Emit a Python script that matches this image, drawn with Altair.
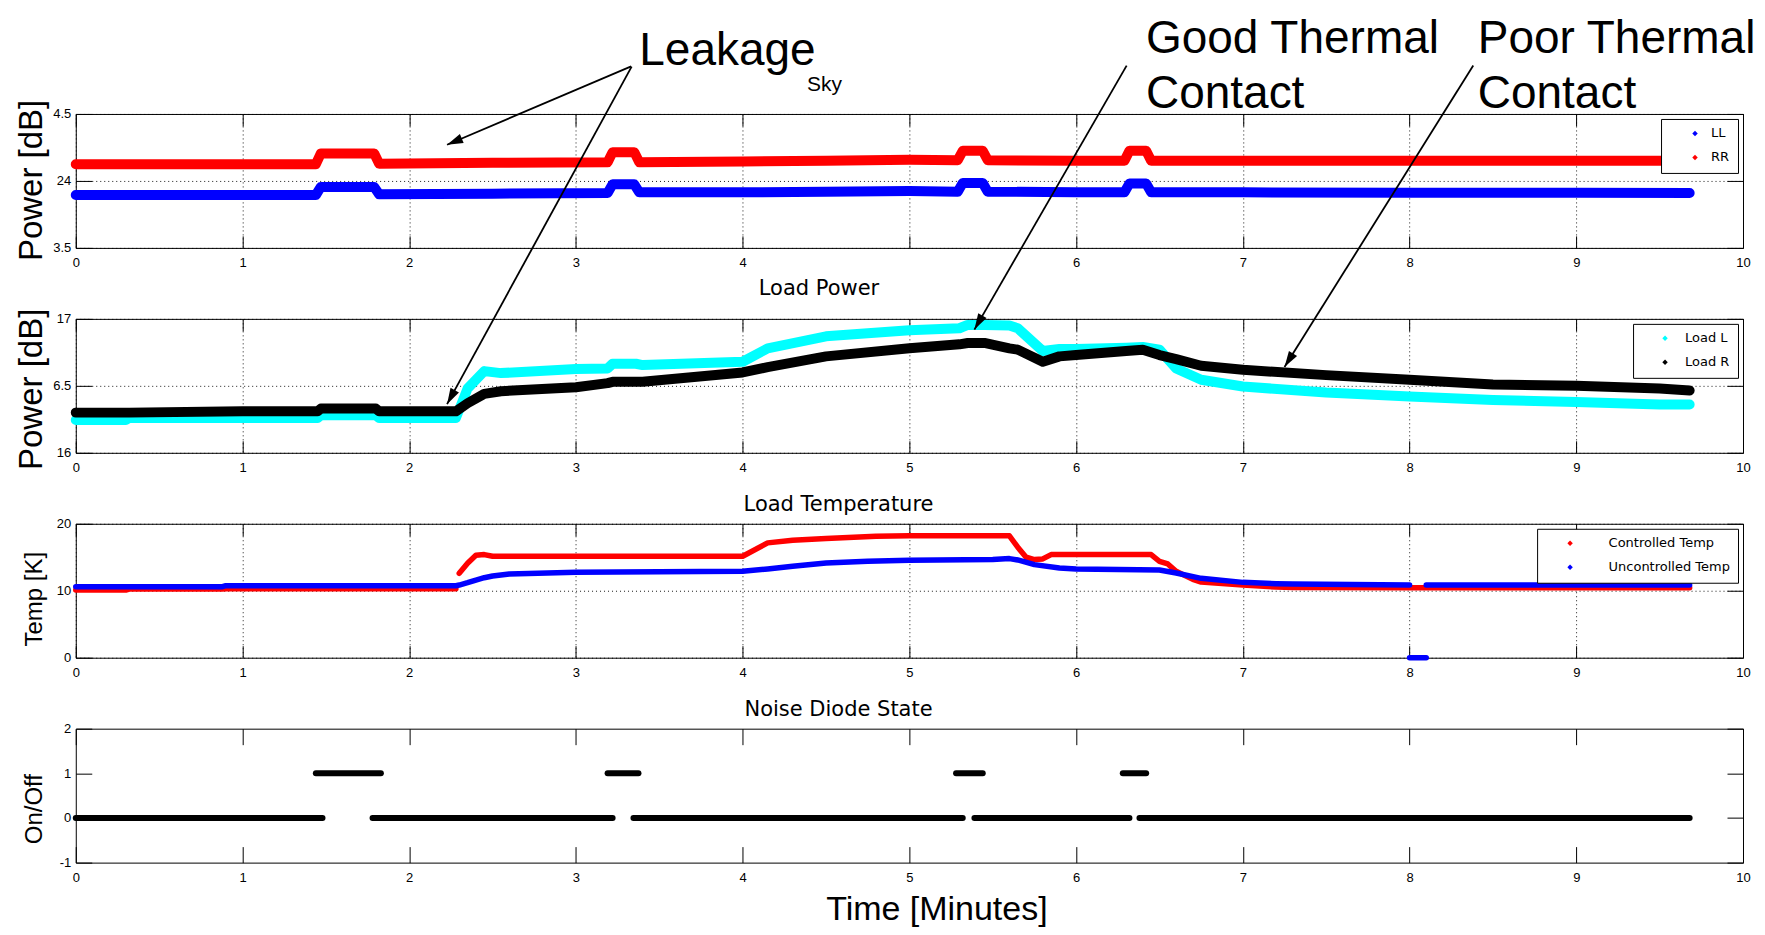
import math
import altair as alt
import pandas as pd

# ------------------------------------------------------------------ data
X_TICKS = [0, 1, 2, 3, 4, 5, 6, 7, 8, 9, 10]

# Panel 1 - sky power (LL blue, RR red)
sky_t = [0.00, 1.44, 1.47, 1.79, 1.82, 2.50, 3.19, 3.22, 3.35, 3.38, 4.00, 4.50, 5.00,
         5.29, 5.32, 5.44, 5.47, 6.00, 6.29, 6.32, 6.42, 6.45, 7.00, 8.00, 9.00, 9.68]
sky_ll = [3.895, 3.895, 3.955, 3.955, 3.900, 3.905, 3.910, 3.975, 3.975, 3.915, 3.915, 3.920, 3.925,
          3.920, 3.985, 3.985, 3.920, 3.915, 3.915, 3.980, 3.980, 3.915, 3.915, 3.912, 3.912, 3.910]
sky_rr = [4.125, 4.125, 4.205, 4.205, 4.128, 4.135, 4.140, 4.215, 4.215, 4.140, 4.145, 4.150, 4.158,
          4.155, 4.225, 4.225, 4.155, 4.150, 4.150, 4.225, 4.225, 4.150, 4.150, 4.150, 4.150, 4.150]

# Panel 2 - load power (Load L cyan, Load R black)
load_t = [0.00, 0.30, 0.32, 1.00, 1.45, 1.47, 1.80, 1.82, 2.28, 2.35, 2.45, 2.55, 3.00, 3.19,
          3.22, 3.36, 3.40, 4.00, 4.15, 4.50, 5.00, 5.30, 5.35, 5.45, 5.60, 5.65, 5.80, 5.90,
          6.00, 6.30, 6.40, 6.50, 6.60, 6.75, 7.00, 7.50, 8.00, 8.50, 9.00, 9.50, 9.68]
load_l = [16.245, 16.245, 16.26, 16.26, 16.26, 16.28, 16.28, 16.26, 16.26, 16.48, 16.61, 16.595,
          16.625, 16.63, 16.665, 16.665, 16.655, 16.68, 16.78, 16.87, 16.915, 16.93, 16.955, 16.955,
          16.95, 16.93, 16.76, 16.775, 16.775, 16.785, 16.79, 16.77, 16.63, 16.545, 16.495, 16.45,
          16.42, 16.395, 16.38, 16.36, 16.36]
load_r = [16.30, 16.30, 16.30, 16.31, 16.31, 16.33, 16.33, 16.31, 16.31, 16.37, 16.44, 16.46,
          16.49, 16.52, 16.53, 16.53, 16.53, 16.60, 16.64, 16.72, 16.78, 16.81, 16.82, 16.82,
          16.78, 16.77, 16.68, 16.72, 16.73, 16.76, 16.77, 16.73, 16.70, 16.65, 16.62, 16.58,
          16.545, 16.51, 16.50, 16.48, 16.465]

# Panel 3 - load temperature
ctrl_t = [0.00, 0.30, 0.32, 0.88, 0.90, 2.28, 2.30, 2.35, 2.40, 2.45, 2.50, 2.60, 3.00, 4.00,
          4.15, 4.30, 4.50, 4.60, 4.80, 5.00, 5.50, 5.60, 5.65, 5.70, 5.75, 5.80, 5.85, 5.90,
          6.00, 6.45, 6.50, 6.55, 6.60, 6.70, 6.75, 7.00, 7.20, 7.30, 8.00, 9.00, 9.68]
ctrl_v = [10.1, 10.1, 10.25, 10.25, 10.3, 10.3, 12.6, 14.1, 15.3, 15.4, 15.15, 15.15, 15.15, 15.15,
          17.15, 17.55, 17.8, 17.9, 18.15, 18.2, 18.2, 18.2, 16.5, 15.0, 14.65, 14.75, 15.4, 15.4,
          15.4, 15.4, 14.4, 14.0, 12.9, 11.7, 11.3, 10.85, 10.55, 10.5, 10.45, 10.45, 10.45]
ctrl_seg = [0] * 6 + [1] * 35
ucon_t = [0.00, 0.88, 0.90, 2.28, 2.30, 2.35, 2.40, 2.45, 2.50, 2.60, 3.00, 4.00, 4.15, 4.30,
          4.50, 4.75, 5.00, 5.50, 5.60, 5.65, 5.75, 5.90, 6.00, 6.50, 6.60, 6.75, 7.00, 7.20,
          7.30, 8.00, 8.00, 8.10, 8.10, 9.00, 9.68]
ucon_v = [10.6, 10.6, 10.75, 10.75, 10.85, 11.2, 11.6, 11.95, 12.2, 12.5, 12.75, 12.9, 13.25, 13.65,
          14.15, 14.4, 14.55, 14.65, 14.8, 14.6, 13.9, 13.4, 13.25, 13.1, 12.65, 11.85, 11.25, 11.05,
          11.0, 10.85, 0.0, 0.0, 10.85, 10.85, 10.85]
ucon_seg = [0] * 30 + [1, 1] + [2, 2, 2]

# Panel 4 - noise diode state
diode_start = [0.00, 1.78, 3.345, 5.39, 6.38, 1.44, 3.19, 5.28, 6.28]
diode_end = [1.48, 3.22, 5.32, 6.32, 9.68, 1.83, 3.375, 5.44, 6.42]
diode_state = [0, 0, 0, 0, 0, 1, 1, 1, 1]

# axis ticks / labels
sky_yticks = [3.5, 4.0, 4.5]
sky_ylabels = ["3.5", "24", "4.5"]
load_yticks = [16.0, 16.5, 17.0]
load_ylabels = ["16", "6.5", "17"]
temp_yticks = [0, 10, 20]
temp_ylabels = ["0", "10", "20"]
diode_yticks = [-1, 0, 1, 2]
diode_ylabels = ["-1", "0", "1", "2"]

# annotations (panel data coordinates)
head_text = ["Leakage", "Good Thermal", "Contact", "Poor Thermal", "Contact"]
head_t = [3.380, 6.419, 6.419, 8.409, 8.409]
head_v = [4.868, 4.954, 4.542, 4.954, 4.542]
sub_text = ["Sky"]
sub_t = [4.386]
sub_v = [4.669]

arr1_t0, arr1_v0, arr1_t1, arr1_v1 = [3.331], [4.855], [2.227], [4.27]
arr2_t0 = [3.334, 6.303, 8.382]
arr2_v0 = [18.883, 18.891, 18.891]
arr2_t1 = [2.227, 5.39, 7.25]
arr2_v1 = [16.363, 16.92, 16.64]

title_text = ["Load Power", "Load Temperature", "Noise Diode State"]
title_t = [4.458, 4.575, 4.575]
title_v = [17.176, 21.88, 2.282]

# ------------------------------------------------------------------ layout
W, H, GAP = 1668, 134, 71
AXF = "Liberation Sans"
XS = alt.Scale(domain=[0, 10], nice=False, zero=False)
ARROW = "M0,0L-0.6,2L0.6,2Z"
GRID = dict(gridColor="black", gridDash=[1, 3], gridWidth=1, gridOpacity=0.9)


def yscale(lo, hi):
    return alt.Scale(domain=[lo, hi], nice=False, zero=False)


def value_expr(vals, texts):
    return " : ".join(f"datum.value == {v} ? '{s}'" for v, s in zip(vals, texts)) + " : ''"


def tick_axis(orient, offset, values, size):
    return alt.Axis(orient=orient, offset=offset, values=values, labels=False, ticks=True,
                    tickSize=size, tickColor="black", tickWidth=1, domain=False, grid=False,
                    title=None)


def legend(symbol_offset, label_offset):
    return alt.Legend(title=None, orient="top-right", offset=5, strokeColor="black",
                      fillColor="white", padding=8, cornerRadius=0, symbolType="diamond",
                      symbolSize=30, symbolStrokeWidth=0, symbolOpacity=1,
                      symbolOffset=symbol_offset, labelOffset=label_offset,
                      labelFont="DejaVu Sans", labelFontSize=13, labelColor="black",
                      rowPadding=10)


def text_layer(df, **mk):
    def f(ys):
        return alt.Chart(df).mark_text(**mk).encode(
            x=alt.X("t:Q", scale=XS, axis=None),
            y=alt.Y("v:Q", scale=ys, axis=None),
            text="label:N")
    return f


def legend_layer(df, dom, colors, leg):
    def f(ys):
        return alt.Chart(df).transform_filter("false").mark_point(
            filled=True, shape="diamond", size=30).encode(
            x=alt.X("t:Q", scale=XS, axis=None),
            y=alt.Y("v:Q", scale=ys, axis=None),
            color=alt.Color("series:N", scale=alt.Scale(domain=dom, range=colors), legend=leg))
    return f


def arrow_layers(t0, v0, t1, v1, lo, hi):
    ang = []
    for a, b, c, d in zip(t0, v0, t1, v1):
        dx = (c - a) * W / 10.0
        dy = -(d - b) * H / (hi - lo)
        ang.append(math.degrees(math.atan2(dx, -dy)) % 360)
    df = pd.DataFrame({"t0": t0, "v0": v0, "t1": t1, "v1": v1, "ang": ang})

    def rule(ys):
        return alt.Chart(df).mark_rule(color="black", strokeWidth=1.8).encode(
            x=alt.X("t0:Q", scale=XS, axis=None), y=alt.Y("v0:Q", scale=ys, axis=None),
            x2="t1:Q", y2="v1:Q")

    def head(ys):
        return alt.Chart(df).mark_point(shape=ARROW, size=256, filled=True, color="black",
                                        opacity=1, strokeWidth=0).encode(
            x=alt.X("t1:Q", scale=XS, axis=None), y=alt.Y("v1:Q", scale=ys, axis=None),
            angle=alt.Angle("ang:Q", scale=None))
    return [rule, head]


def make_panel(main_fn, lo, hi, yticks, ylabels, ytitle, ytitle_size, ytitle_y, grid,
               xtick, ytick, extras, x_expr=None, xtitle=None):
    ys = yscale(lo, hi)
    xkw = dict(orient="bottom", values=X_TICKS, labelFont=AXF, labelFontSize=13,
               labelColor="black", labelPadding=9, labelFlush=False, ticks=False, tickSize=0,
               domain=False, grid=grid)
    if grid:
        xkw.update(GRID)
    if x_expr:
        xkw["labelExpr"] = x_expr
    if xtitle:
        xkw.update(title=xtitle, titleFont=AXF, titleFontSize=34, titleFontWeight="normal",
                   titleColor="black", titleAngle=0, titleAlign="center",
                   titleBaseline="alphabetic", titleX=861, titleY=57.4)
    else:
        xkw["title"] = None
    ykw = dict(orient="left", values=yticks, labelExpr=value_expr(yticks, ylabels),
               labelFont=AXF, labelFontSize=13, labelColor="black", labelPadding=5,
               labelFlush=False, ticks=False, tickSize=0, domain=False, grid=grid,
               title=ytitle, titleFont=AXF, titleFontSize=ytitle_size,
               titleFontWeight="normal", titleColor="black", titleAngle=270,
               titleAlign="center", titleBaseline="alphabetic", titleX=-34.5, titleY=ytitle_y)
    if grid:
        ykw.update(GRID)
    main = main_fn(alt.Axis(**xkw), alt.Axis(**ykw), ys)

    frame = pd.DataFrame({"t": [0, 10], "v": [lo, hi]})
    tick_a = alt.Chart(frame).mark_point(opacity=0).encode(
        x=alt.X("t:Q", scale=XS, axis=tick_axis("top", -H, X_TICKS, xtick)),
        y=alt.Y("v:Q", scale=ys, axis=tick_axis("right", -W, yticks, ytick)))
    tick_b = alt.Chart(frame).mark_point(opacity=0).encode(
        x=alt.X("t:Q", scale=XS, axis=tick_axis("bottom", -H, X_TICKS, xtick)),
        y=alt.Y("v:Q", scale=ys, axis=tick_axis("left", -W, yticks, ytick)))
    layers = [tick_a, tick_b, main] + [e(ys) for e in extras]
    return alt.layer(*layers).resolve_axis(x="independent", y="independent").resolve_scale(
        color="independent").properties(width=W, height=H)


def line_fn(df, dom, colors, width):
    def f(xa, ya, ys):
        return alt.Chart(df).mark_line(strokeCap="round", strokeJoin="round",
                                       strokeWidth=width).encode(
            x=alt.X("t:Q", scale=XS, axis=xa),
            y=alt.Y("v:Q", scale=ys, axis=ya),
            color=alt.Color("series:N", scale=alt.Scale(domain=dom, range=colors), legend=None),
            detail="seg:N",
        )
    return f


# ---- data frames
sky_df = pd.DataFrame({"t": sky_t + sky_t, "v": sky_ll + sky_rr,
                       "series": ["LL"] * len(sky_t) + ["RR"] * len(sky_t),
                       "seg": [0] * (2 * len(sky_t))})
load_df = pd.DataFrame({"t": load_t + load_t, "v": load_l + load_r,
                        "series": ["Load L"] * len(load_t) + ["Load R"] * len(load_t),
                        "seg": [0] * (2 * len(load_t))})
temp_df = pd.DataFrame({"t": ctrl_t + ucon_t, "v": ctrl_v + ucon_v,
                        "series": ["Controlled Temp"] * len(ctrl_t)
                        + ["Uncontrolled Temp"] * len(ucon_t),
                        "seg": ctrl_seg + ucon_seg})
diode_df = pd.DataFrame({"t0": diode_start, "t1": diode_end, "s": diode_state})

head_df = pd.DataFrame({"label": head_text, "t": head_t, "v": head_v})
sub_df = pd.DataFrame({"label": sub_text, "t": sub_t, "v": sub_v})
ttl_df = [pd.DataFrame({"label": [title_text[i]], "t": [title_t[i]], "v": [title_v[i]]})
          for i in range(3)]

TITLE_MK = dict(align="center", baseline="alphabetic", font="DejaVu Sans", fontSize=21,
                color="black")

SKY_DOM, SKY_COL = ["LL", "RR"], ["#0000ff", "#ff0000"]
LOAD_DOM, LOAD_COL = ["Load L", "Load R"], ["#00ffff", "#000000"]
TEMP_DOM, TEMP_COL = ["Controlled Temp", "Uncontrolled Temp"], ["#ff0000", "#0000ff"]

p1 = make_panel(
    line_fn(sky_df, SKY_DOM, SKY_COL, 10),
    3.5, 4.5, sky_yticks, sky_ylabels, "Power [dB]", 33, 66, True, 12, 16,
    [legend_layer(sky_df, SKY_DOM, SKY_COL, legend(19.5, 9.5)),
     text_layer(head_df, align="left", baseline="alphabetic", font=AXF, fontSize=46,
                color="black"),
     text_layer(sub_df, align="left", baseline="alphabetic", font=AXF, fontSize=21,
                color="black")]
    + arrow_layers(arr1_t0, arr1_v0, arr1_t1, arr1_v1, 3.5, 4.5),
    x_expr="datum.value == 5 ? '' : datum.label")

p2 = make_panel(
    line_fn(load_df, LOAD_DOM, LOAD_COL, 10),
    16.0, 17.0, load_yticks, load_ylabels, "Power [dB]", 33, 70, True, 12, 16,
    [legend_layer(load_df, LOAD_DOM, LOAD_COL, legend(17.5, 13.5)),
     text_layer(ttl_df[0], **TITLE_MK)]
    + arrow_layers(arr2_t0, arr2_v0, arr2_t1, arr2_v1, 16.0, 17.0))

p3 = make_panel(
    line_fn(temp_df, TEMP_DOM, TEMP_COL, 5.5),
    0, 20, temp_yticks, temp_ylabels, "Temp [K]", 24, 75, True, 12, 16,
    [legend_layer(temp_df, TEMP_DOM, TEMP_COL, legend(18.5, 32)),
     text_layer(ttl_df[1], **TITLE_MK)])


def diode_fn(xa, ya, ys):
    return alt.Chart(diode_df).mark_rule(color="black", strokeWidth=6, strokeCap="round").encode(
        x=alt.X("t0:Q", scale=XS, axis=xa),
        x2="t1:Q",
        y=alt.Y("s:Q", scale=ys, axis=ya))


p4 = make_panel(diode_fn, -1, 2, diode_yticks, diode_ylabels, "On/Off", 24, 80, False, 16, 16,
                [text_layer(ttl_df[2], **TITLE_MK)], xtitle="Time [Minutes]")

chart = alt.vconcat(p1, p2, p3, p4, spacing=GAP, bounds="flush").resolve_scale(
    x="independent", y="independent", color="independent"
).resolve_legend(color="independent").properties(
    padding={"left": 5.8, "top": 6.8, "right": 0, "bottom": 0}
).configure(font=AXF, view=alt.ViewConfig(stroke="black", strokeWidth=1))

chart.save("out.html", embed_options={"renderer": "svg", "actions": False})
